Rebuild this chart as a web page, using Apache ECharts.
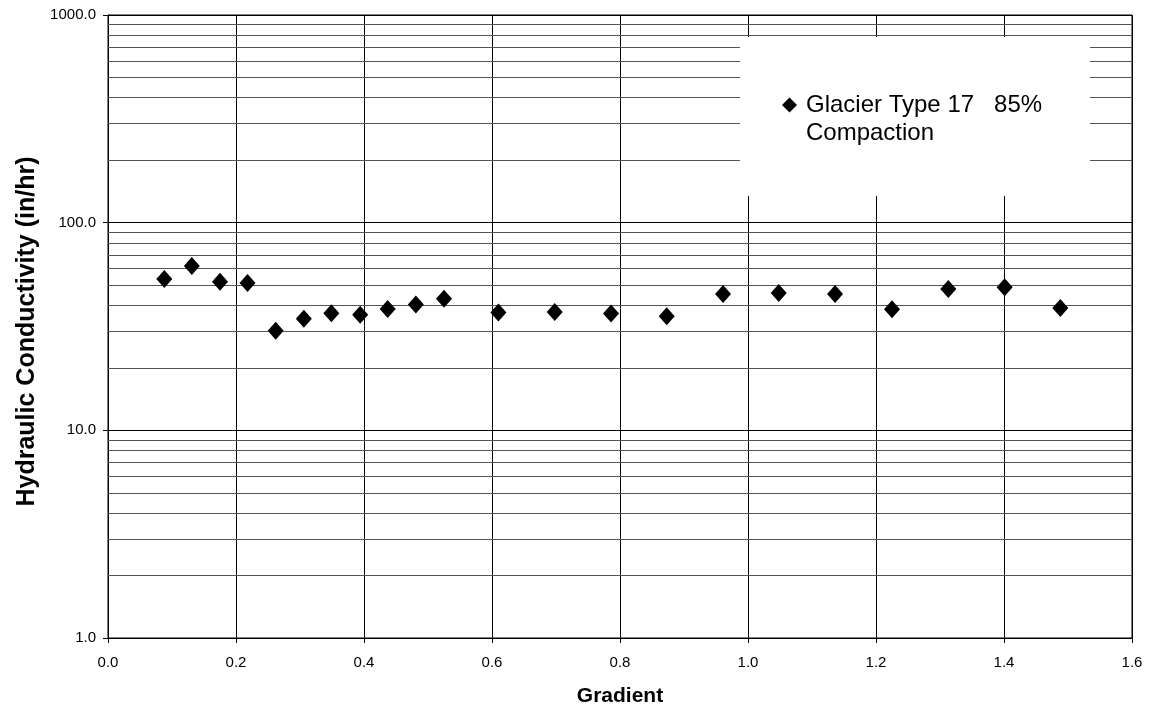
<!DOCTYPE html>
<html>
<head>
<meta charset="utf-8">
<script src="https://cdn.jsdelivr.net/npm/echarts@6/dist/echarts.min.js"></script>
<style>html,body{margin:0;padding:0;background:#fff;overflow:hidden;}#chart{width:1151px;height:712px;}</style>
</head>
<body>
<div id="chart"></div>
<script>
const seriesName = 'Glacier Type 17   85%\nCompaction';
const gradient = [0.088, 0.131, 0.175, 0.218, 0.262, 0.306, 0.349, 0.394, 0.437, 0.481, 0.525,
                  0.610, 0.698, 0.786, 0.873, 0.961, 1.048, 1.136, 1.225, 1.313, 1.401, 1.488];
const conductivity = [53.6, 61.8, 52.0, 51.2, 30.2, 34.5, 36.6, 36.0, 38.4, 40.4, 43.0,
                      36.9, 37.1, 36.5, 35.4, 45.4, 45.9, 45.4, 38.3, 47.9, 48.8, 38.8];
const minorGridValues = [2,3,4,5,6,7,8,9,20,30,40,50,60,70,80,90,200,300,400,500,600,700,800,900];
const xTitle = 'Gradient';
const yTitle = 'Hydraulic Conductivity (in/hr)';

const points = gradient.map((g, i) => [g, conductivity[i]]);
const font = 'Liberation Sans, Arial, Helvetica, sans-serif';

const chart = echarts.init(document.getElementById('chart'), null, {renderer: 'canvas', width: 1151, height: 712});
chart.setOption({
  animation: false,
  backgroundColor: '#fff',
  textStyle: {fontFamily: font, color: '#000'},
  grid: {left: 108, top: 15, width: 1024, height: 624, show: true, borderColor: '#000', borderWidth: 1, containLabel: false},
  xAxis: {
    type: 'value', min: 0, max: 1.6, interval: 0.2,
    name: xTitle, nameLocation: 'middle', nameGap: 48,
    nameTextStyle: {fontFamily: font, fontSize: 21, fontWeight: 'bold', color: '#000'},
    axisLine: {show: true, lineStyle: {color: '#000', width: 1}},
    axisTick: {show: true, inside: false, length: 5, lineStyle: {color: '#000'}},
    axisLabel: {fontFamily: font, fontSize: 15, color: '#000', margin: 17, formatter: v => v.toFixed(1)},
    splitLine: {show: true, lineStyle: {color: '#000', width: 1}}
  },
  yAxis: {
    type: 'log', logBase: 10, min: 1, max: 1000,
    name: yTitle, nameLocation: 'middle', nameGap: 65, nameRotate: 90,
    nameTextStyle: {fontFamily: font, fontSize: 25, fontWeight: 'bold', color: '#000', padding: [0, 10, 0, 0]},
    axisLine: {show: true, lineStyle: {color: '#000', width: 1}},
    axisTick: {show: true, inside: false, length: 5, lineStyle: {color: '#000'}},
    axisLabel: {fontFamily: font, fontSize: 15, color: '#000', margin: 12, formatter: v => Number(v).toFixed(1)},
    splitLine: {show: true, lineStyle: {color: '#000', width: 1}}
  },
  legend: {
    show: true, left: 782, top: 63, padding: 0, orient: 'vertical',
    selectedMode: false, z: 10,
    itemWidth: 15, itemHeight: 15,
    formatter: name => ' \n' + name,
    textStyle: {fontFamily: font, fontSize: 24, lineHeight: 28, color: '#000', padding: [0, 0, 0, 4]},
    data: [{name: seriesName, icon: 'diamond'}]
  },
  graphic: [{
    type: 'rect', z: 6, silent: true,
    shape: {x: 740, y: 37, width: 350, height: 159},
    style: {fill: '#fff'}
  }],
  series: [{
    name: seriesName,
    type: 'scatter',
    symbol: 'diamond',
    symbolSize: [16, 18],
    itemStyle: {color: '#000', opacity: 1},
    data: points,
    z: 3,
    markLine: {
      silent: true, symbol: 'none', animation: false, z: 1,
      label: {show: false},
      lineStyle: {color: '#555', width: 1, type: 'solid'},
      emphasis: {disabled: true},
      data: minorGridValues.map(v => ({yAxis: v}))
    }
  }]
});
</script>
</body>
</html>
